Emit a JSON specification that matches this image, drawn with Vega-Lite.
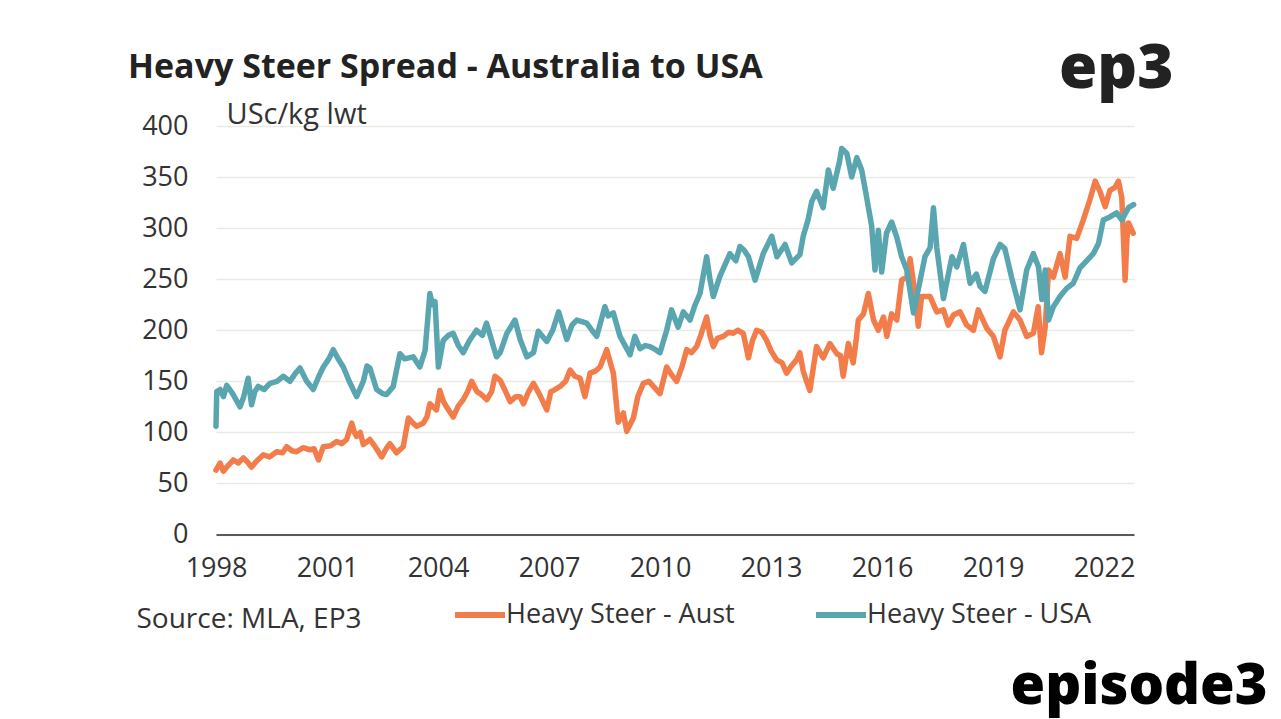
{
  "$schema": "https://vega.github.io/schema/vega-lite/v6.json",
  "width": 918,
  "height": 408.5,
  "autosize": {"type": "none"},
  "padding": {"left": 216, "top": 126, "right": 147, "bottom": 184.5},
  "background": "#ffffff",
  "config": {"view": {"stroke": null}},
  "title": {"text": "Heavy Steer Spread - Australia to USA", "anchor": "start", "frame": "group", "dx": -88, "dy": 58, "font": "Open Sans", "fontSize": 34, "fontWeight": "bold", "color": "#222222", "offset": 10},
  "data": {"values": [
    {"s":"Aust","t":1998.0,"v":63},{"s":"Aust","t":1998.11,"v":70},{"s":"Aust","t":1998.2,"v":62},{"s":"Aust","t":1998.29,"v":66},{"s":"Aust","t":1998.47,"v":73},{"s":"Aust","t":1998.6,"v":70},{"s":"Aust","t":1998.74,"v":75},{"s":"Aust","t":1998.85,"v":71},{"s":"Aust","t":1998.96,"v":66},{"s":"Aust","t":1999.1,"v":72},{"s":"Aust","t":1999.28,"v":78},{"s":"Aust","t":1999.45,"v":76},{"s":"Aust","t":1999.64,"v":81},{"s":"Aust","t":1999.8,"v":80},{"s":"Aust","t":1999.91,"v":86},{"s":"Aust","t":2000.05,"v":82},{"s":"Aust","t":2000.18,"v":81},{"s":"Aust","t":2000.35,"v":85},{"s":"Aust","t":2000.54,"v":83},{"s":"Aust","t":2000.65,"v":84},{"s":"Aust","t":2000.77,"v":73},{"s":"Aust","t":2000.9,"v":86},{"s":"Aust","t":2001.1,"v":87},{"s":"Aust","t":2001.26,"v":91},{"s":"Aust","t":2001.4,"v":89},{"s":"Aust","t":2001.53,"v":93},{"s":"Aust","t":2001.67,"v":109},{"s":"Aust","t":2001.74,"v":100},{"s":"Aust","t":2001.8,"v":96},{"s":"Aust","t":2001.9,"v":100},{"s":"Aust","t":2001.98,"v":88},{"s":"Aust","t":2002.16,"v":93},{"s":"Aust","t":2002.3,"v":86},{"s":"Aust","t":2002.48,"v":76},{"s":"Aust","t":2002.6,"v":84},{"s":"Aust","t":2002.7,"v":89},{"s":"Aust","t":2002.88,"v":80},{"s":"Aust","t":2003.06,"v":86},{"s":"Aust","t":2003.2,"v":114},{"s":"Aust","t":2003.3,"v":110},{"s":"Aust","t":2003.42,"v":106},{"s":"Aust","t":2003.6,"v":109},{"s":"Aust","t":2003.7,"v":115},{"s":"Aust","t":2003.78,"v":128},{"s":"Aust","t":2003.96,"v":122},{"s":"Aust","t":2004.05,"v":141},{"s":"Aust","t":2004.15,"v":130},{"s":"Aust","t":2004.23,"v":125},{"s":"Aust","t":2004.41,"v":115},{"s":"Aust","t":2004.55,"v":126},{"s":"Aust","t":2004.68,"v":132},{"s":"Aust","t":2004.8,"v":140},{"s":"Aust","t":2004.91,"v":150},{"s":"Aust","t":2005.05,"v":140},{"s":"Aust","t":2005.14,"v":138},{"s":"Aust","t":2005.32,"v":132},{"s":"Aust","t":2005.45,"v":140},{"s":"Aust","t":2005.54,"v":155},{"s":"Aust","t":2005.68,"v":151},{"s":"Aust","t":2005.8,"v":142},{"s":"Aust","t":2005.95,"v":130},{"s":"Aust","t":2006.1,"v":135},{"s":"Aust","t":2006.22,"v":135},{"s":"Aust","t":2006.31,"v":128},{"s":"Aust","t":2006.45,"v":140},{"s":"Aust","t":2006.58,"v":148},{"s":"Aust","t":2006.76,"v":136},{"s":"Aust","t":2006.94,"v":122},{"s":"Aust","t":2007.05,"v":140},{"s":"Aust","t":2007.12,"v":141},{"s":"Aust","t":2007.3,"v":145},{"s":"Aust","t":2007.45,"v":150},{"s":"Aust","t":2007.57,"v":161},{"s":"Aust","t":2007.7,"v":155},{"s":"Aust","t":2007.84,"v":153},{"s":"Aust","t":2007.97,"v":135},{"s":"Aust","t":2008.11,"v":158},{"s":"Aust","t":2008.25,"v":160},{"s":"Aust","t":2008.38,"v":164},{"s":"Aust","t":2008.56,"v":181},{"s":"Aust","t":2008.66,"v":168},{"s":"Aust","t":2008.74,"v":158},{"s":"Aust","t":2008.87,"v":110},{"s":"Aust","t":2009.01,"v":119},{"s":"Aust","t":2009.1,"v":101},{"s":"Aust","t":2009.28,"v":114},{"s":"Aust","t":2009.4,"v":135},{"s":"Aust","t":2009.55,"v":148},{"s":"Aust","t":2009.7,"v":150},{"s":"Aust","t":2009.82,"v":145},{"s":"Aust","t":2010.0,"v":138},{"s":"Aust","t":2010.18,"v":164},{"s":"Aust","t":2010.3,"v":157},{"s":"Aust","t":2010.45,"v":150},{"s":"Aust","t":2010.6,"v":165},{"s":"Aust","t":2010.72,"v":181},{"s":"Aust","t":2010.85,"v":178},{"s":"Aust","t":2010.99,"v":184},{"s":"Aust","t":2011.1,"v":195},{"s":"Aust","t":2011.26,"v":213},{"s":"Aust","t":2011.35,"v":195},{"s":"Aust","t":2011.44,"v":184},{"s":"Aust","t":2011.55,"v":192},{"s":"Aust","t":2011.71,"v":194},{"s":"Aust","t":2011.85,"v":198},{"s":"Aust","t":2011.98,"v":197},{"s":"Aust","t":2012.1,"v":200},{"s":"Aust","t":2012.25,"v":197},{"s":"Aust","t":2012.39,"v":173},{"s":"Aust","t":2012.5,"v":190},{"s":"Aust","t":2012.61,"v":200},{"s":"Aust","t":2012.75,"v":198},{"s":"Aust","t":2012.88,"v":190},{"s":"Aust","t":2013.0,"v":180},{"s":"Aust","t":2013.15,"v":171},{"s":"Aust","t":2013.3,"v":168},{"s":"Aust","t":2013.42,"v":158},{"s":"Aust","t":2013.55,"v":165},{"s":"Aust","t":2013.69,"v":171},{"s":"Aust","t":2013.78,"v":178},{"s":"Aust","t":2013.87,"v":160},{"s":"Aust","t":2013.96,"v":150},{"s":"Aust","t":2014.05,"v":141},{"s":"Aust","t":2014.15,"v":165},{"s":"Aust","t":2014.23,"v":184},{"s":"Aust","t":2014.41,"v":173},{"s":"Aust","t":2014.5,"v":180},{"s":"Aust","t":2014.59,"v":187},{"s":"Aust","t":2014.78,"v":177},{"s":"Aust","t":2014.88,"v":175},{"s":"Aust","t":2014.95,"v":155},{"s":"Aust","t":2015.09,"v":187},{"s":"Aust","t":2015.22,"v":168},{"s":"Aust","t":2015.3,"v":190},{"s":"Aust","t":2015.36,"v":210},{"s":"Aust","t":2015.5,"v":216},{"s":"Aust","t":2015.63,"v":236},{"s":"Aust","t":2015.77,"v":210},{"s":"Aust","t":2015.9,"v":200},{"s":"Aust","t":2016.04,"v":213},{"s":"Aust","t":2016.13,"v":194},{"s":"Aust","t":2016.26,"v":216},{"s":"Aust","t":2016.4,"v":210},{"s":"Aust","t":2016.53,"v":249},{"s":"Aust","t":2016.67,"v":252},{"s":"Aust","t":2016.76,"v":270},{"s":"Aust","t":2016.89,"v":236},{"s":"Aust","t":2016.98,"v":204},{"s":"Aust","t":2017.07,"v":233},{"s":"Aust","t":2017.3,"v":233},{"s":"Aust","t":2017.48,"v":218},{"s":"Aust","t":2017.66,"v":220},{"s":"Aust","t":2017.79,"v":205},{"s":"Aust","t":2017.93,"v":215},{"s":"Aust","t":2018.11,"v":218},{"s":"Aust","t":2018.29,"v":205},{"s":"Aust","t":2018.47,"v":200},{"s":"Aust","t":2018.6,"v":220},{"s":"Aust","t":2018.83,"v":202},{"s":"Aust","t":2019.01,"v":194},{"s":"Aust","t":2019.19,"v":174},{"s":"Aust","t":2019.32,"v":200},{"s":"Aust","t":2019.55,"v":218},{"s":"Aust","t":2019.73,"v":210},{"s":"Aust","t":2019.91,"v":194},{"s":"Aust","t":2020.09,"v":197},{"s":"Aust","t":2020.22,"v":223},{"s":"Aust","t":2020.31,"v":178},{"s":"Aust","t":2020.41,"v":203},{"s":"Aust","t":2020.5,"v":259},{"s":"Aust","t":2020.63,"v":252},{"s":"Aust","t":2020.81,"v":275},{"s":"Aust","t":2020.95,"v":252},{"s":"Aust","t":2021.08,"v":292},{"s":"Aust","t":2021.26,"v":290},{"s":"Aust","t":2021.44,"v":308},{"s":"Aust","t":2021.62,"v":328},{"s":"Aust","t":2021.76,"v":346},{"s":"Aust","t":2021.89,"v":336},{"s":"Aust","t":2022.03,"v":321},{"s":"Aust","t":2022.16,"v":337},{"s":"Aust","t":2022.3,"v":340},{"s":"Aust","t":2022.39,"v":346},{"s":"Aust","t":2022.48,"v":330},{"s":"Aust","t":2022.57,"v":249},{"s":"Aust","t":2022.62,"v":290},{"s":"Aust","t":2022.66,"v":305},{"s":"Aust","t":2022.79,"v":295},
    {"s":"USA","t":1998.0,"v":106},{"s":"USA","t":1998.02,"v":140},{"s":"USA","t":1998.11,"v":142},{"s":"USA","t":1998.2,"v":135},{"s":"USA","t":1998.29,"v":146},{"s":"USA","t":1998.45,"v":138},{"s":"USA","t":1998.65,"v":125},{"s":"USA","t":1998.75,"v":135},{"s":"USA","t":1998.87,"v":153},{"s":"USA","t":1998.96,"v":127},{"s":"USA","t":1999.05,"v":140},{"s":"USA","t":1999.14,"v":145},{"s":"USA","t":1999.3,"v":142},{"s":"USA","t":1999.46,"v":148},{"s":"USA","t":1999.65,"v":150},{"s":"USA","t":1999.82,"v":155},{"s":"USA","t":2000.0,"v":150},{"s":"USA","t":2000.15,"v":158},{"s":"USA","t":2000.27,"v":163},{"s":"USA","t":2000.45,"v":150},{"s":"USA","t":2000.63,"v":142},{"s":"USA","t":2000.78,"v":155},{"s":"USA","t":2000.9,"v":164},{"s":"USA","t":2001.05,"v":172},{"s":"USA","t":2001.17,"v":181},{"s":"USA","t":2001.3,"v":172},{"s":"USA","t":2001.44,"v":164},{"s":"USA","t":2001.6,"v":150},{"s":"USA","t":2001.8,"v":135},{"s":"USA","t":2001.98,"v":150},{"s":"USA","t":2002.08,"v":165},{"s":"USA","t":2002.16,"v":163},{"s":"USA","t":2002.34,"v":142},{"s":"USA","t":2002.5,"v":138},{"s":"USA","t":2002.61,"v":137},{"s":"USA","t":2002.79,"v":145},{"s":"USA","t":2002.97,"v":177},{"s":"USA","t":2003.1,"v":172},{"s":"USA","t":2003.33,"v":174},{"s":"USA","t":2003.51,"v":164},{"s":"USA","t":2003.65,"v":180},{"s":"USA","t":2003.78,"v":236},{"s":"USA","t":2003.85,"v":225},{"s":"USA","t":2003.92,"v":228},{"s":"USA","t":2004.01,"v":164},{"s":"USA","t":2004.14,"v":190},{"s":"USA","t":2004.28,"v":195},{"s":"USA","t":2004.41,"v":197},{"s":"USA","t":2004.55,"v":185},{"s":"USA","t":2004.68,"v":178},{"s":"USA","t":2004.85,"v":190},{"s":"USA","t":2005.04,"v":200},{"s":"USA","t":2005.2,"v":195},{"s":"USA","t":2005.31,"v":207},{"s":"USA","t":2005.45,"v":190},{"s":"USA","t":2005.58,"v":174},{"s":"USA","t":2005.68,"v":178},{"s":"USA","t":2005.86,"v":197},{"s":"USA","t":2006.08,"v":210},{"s":"USA","t":2006.22,"v":191},{"s":"USA","t":2006.4,"v":174},{"s":"USA","t":2006.58,"v":178},{"s":"USA","t":2006.71,"v":199},{"s":"USA","t":2006.94,"v":189},{"s":"USA","t":2007.1,"v":200},{"s":"USA","t":2007.26,"v":218},{"s":"USA","t":2007.48,"v":191},{"s":"USA","t":2007.62,"v":205},{"s":"USA","t":2007.75,"v":210},{"s":"USA","t":2008.02,"v":207},{"s":"USA","t":2008.16,"v":200},{"s":"USA","t":2008.29,"v":194},{"s":"USA","t":2008.51,"v":223},{"s":"USA","t":2008.6,"v":214},{"s":"USA","t":2008.74,"v":217},{"s":"USA","t":2008.92,"v":194},{"s":"USA","t":2009.19,"v":176},{"s":"USA","t":2009.32,"v":194},{"s":"USA","t":2009.46,"v":182},{"s":"USA","t":2009.6,"v":185},{"s":"USA","t":2009.73,"v":184},{"s":"USA","t":2009.88,"v":181},{"s":"USA","t":2010.0,"v":178},{"s":"USA","t":2010.18,"v":200},{"s":"USA","t":2010.31,"v":220},{"s":"USA","t":2010.49,"v":203},{"s":"USA","t":2010.63,"v":218},{"s":"USA","t":2010.81,"v":210},{"s":"USA","t":2010.95,"v":225},{"s":"USA","t":2011.08,"v":236},{"s":"USA","t":2011.26,"v":272},{"s":"USA","t":2011.35,"v":250},{"s":"USA","t":2011.44,"v":233},{"s":"USA","t":2011.62,"v":253},{"s":"USA","t":2011.89,"v":275},{"s":"USA","t":2012.05,"v":268},{"s":"USA","t":2012.16,"v":282},{"s":"USA","t":2012.28,"v":278},{"s":"USA","t":2012.39,"v":272},{"s":"USA","t":2012.57,"v":249},{"s":"USA","t":2012.79,"v":275},{"s":"USA","t":2013.02,"v":292},{"s":"USA","t":2013.16,"v":272},{"s":"USA","t":2013.38,"v":284},{"s":"USA","t":2013.56,"v":266},{"s":"USA","t":2013.78,"v":274},{"s":"USA","t":2013.87,"v":292},{"s":"USA","t":2014.0,"v":308},{"s":"USA","t":2014.1,"v":326},{"s":"USA","t":2014.23,"v":336},{"s":"USA","t":2014.41,"v":320},{"s":"USA","t":2014.55,"v":357},{"s":"USA","t":2014.68,"v":339},{"s":"USA","t":2014.85,"v":365},{"s":"USA","t":2014.91,"v":378},{"s":"USA","t":2015.05,"v":373},{"s":"USA","t":2015.18,"v":350},{"s":"USA","t":2015.32,"v":369},{"s":"USA","t":2015.45,"v":357},{"s":"USA","t":2015.58,"v":331},{"s":"USA","t":2015.72,"v":302},{"s":"USA","t":2015.81,"v":259},{"s":"USA","t":2015.9,"v":298},{"s":"USA","t":2015.99,"v":257},{"s":"USA","t":2016.12,"v":295},{"s":"USA","t":2016.26,"v":306},{"s":"USA","t":2016.4,"v":291},{"s":"USA","t":2016.53,"v":272},{"s":"USA","t":2016.67,"v":259},{"s":"USA","t":2016.85,"v":217},{"s":"USA","t":2017.03,"v":249},{"s":"USA","t":2017.16,"v":272},{"s":"USA","t":2017.3,"v":281},{"s":"USA","t":2017.39,"v":320},{"s":"USA","t":2017.48,"v":281},{"s":"USA","t":2017.66,"v":231},{"s":"USA","t":2017.89,"v":272},{"s":"USA","t":2018.02,"v":262},{"s":"USA","t":2018.2,"v":284},{"s":"USA","t":2018.38,"v":246},{"s":"USA","t":2018.55,"v":255},{"s":"USA","t":2018.65,"v":243},{"s":"USA","t":2018.78,"v":238},{"s":"USA","t":2019.01,"v":270},{"s":"USA","t":2019.19,"v":284},{"s":"USA","t":2019.32,"v":280},{"s":"USA","t":2019.5,"v":252},{"s":"USA","t":2019.73,"v":220},{"s":"USA","t":2019.91,"v":259},{"s":"USA","t":2020.09,"v":275},{"s":"USA","t":2020.23,"v":262},{"s":"USA","t":2020.32,"v":230},{"s":"USA","t":2020.41,"v":259},{"s":"USA","t":2020.5,"v":210},{"s":"USA","t":2020.63,"v":223},{"s":"USA","t":2020.81,"v":233},{"s":"USA","t":2020.99,"v":241},{"s":"USA","t":2021.17,"v":246},{"s":"USA","t":2021.35,"v":261},{"s":"USA","t":2021.53,"v":268},{"s":"USA","t":2021.71,"v":275},{"s":"USA","t":2021.85,"v":285},{"s":"USA","t":2021.98,"v":308},{"s":"USA","t":2022.16,"v":311},{"s":"USA","t":2022.34,"v":315},{"s":"USA","t":2022.48,"v":308},{"s":"USA","t":2022.66,"v":320},{"s":"USA","t":2022.8,"v":323}
  ]},
  "layer": [
    {
      "transform": [{"filter": "datum.s === 'Aust'"}],
      "mark": {"type": "line", "strokeWidth": 5.5, "strokeJoin": "round", "strokeCap": "round"},
      "encoding": {
        "x": {"field": "t", "type": "quantitative", "scale": {"domain": [1998, 2022.81], "nice": false, "zero": false},
          "axis": {"orient": "bottom", "values": [1998, 2001, 2004, 2007, 2010, 2013, 2016, 2019, 2022], "format": "d", "grid": false, "ticks": false, "domain": true, "domainColor": "#595959", "domainWidth": 2, "labelFont": "Open Sans", "labelFontSize": 27, "labelColor": "#333333", "labelPadding": 21, "labelFlush": false, "labelOverlap": false,
            "title": "Source: MLA, EP3", "titleFont": "Open Sans", "titleFontSize": 28, "titleFontWeight": "normal", "titleColor": "#333333", "titleAlign": "left", "titleX": -80, "titleY": 93, "titleBaseline": "alphabetic"}},
        "y": {"field": "v", "type": "quantitative", "scale": {"domain": [0, 400], "nice": false},
          "axis": {"orient": "left", "values": [0, 50, 100, 150, 200, 250, 300, 350, 400], "grid": true, "gridColor": "#EAEAE2", "gridWidth": 1.5, "ticks": false, "tickSize": 0, "domain": false, "labelFont": "Open Sans", "labelFontSize": 27, "labelColor": "#333333", "labelPadding": 28,
            "title": "USc/kg lwt", "titleAngle": 0, "titleAlign": "left", "titleX": 10, "titleY": -3, "titleBaseline": "alphabetic", "titleFont": "Open Sans", "titleFontSize": 29, "titleFontWeight": "normal", "titleColor": "#333333"}},
        "color": {"field": "s", "type": "nominal", "scale": {"domain": ["Aust", "USA"], "range": ["#F27D4A", "#5AA6B0"]},
          "legend": {"orient": "none", "legendX": 236, "legendY": 461, "direction": "horizontal", "title": null, "padding": 0, "symbolType": "stroke", "symbolSize": 2500, "symbolStrokeWidth": 6, "labelFont": "Open Sans", "labelFontSize": 27, "labelColor": "#333333", "labelOffset": -2, "columnPadding": 69, "labelLimit": 400, "labelExpr": "'Heavy Steer - ' + datum.label"}}
      }
    },
    {
      "transform": [{"filter": "datum.s === 'USA'"}],
      "mark": {"type": "line", "strokeWidth": 5.5, "strokeJoin": "round", "strokeCap": "round"},
      "encoding": {
        "x": {"field": "t", "type": "quantitative",
          "axis": {"orient": "top", "labels": false, "ticks": false, "domain": false, "grid": false,
            "title": "episode3", "titleX": 1051, "titleY": 577, "titleAlign": "right", "titleBaseline": "alphabetic", "titleFont": "Open Sans", "titleFontSize": 56, "titleFontWeight": 800, "titleColor": "#000000"}},
        "y": {"field": "v", "type": "quantitative",
          "axis": {"orient": "right", "labels": false, "ticks": false, "domain": false, "grid": false,
            "title": "ep3", "titleAngle": 0, "titleX": 39, "titleY": -39, "titleAlign": "right", "titleBaseline": "alphabetic", "titleFont": "Open Sans", "titleFontSize": 62, "titleFontWeight": 800, "titleColor": "#222222"}},
        "color": {"field": "s", "type": "nominal"}
      }
    }
  ],
  "resolve": {"axis": {"x": "independent", "y": "independent"}}
}
